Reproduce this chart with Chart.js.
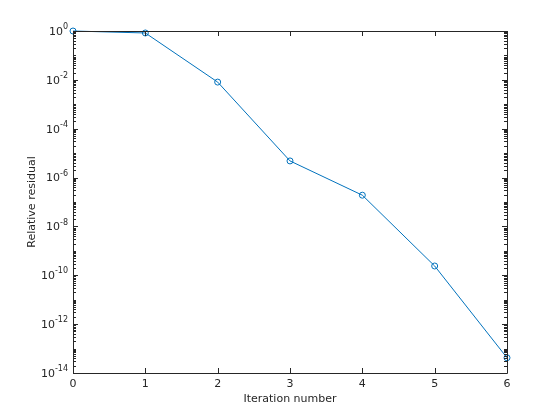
<!DOCTYPE html>
<html>
<head>
<meta charset="utf-8">
<script src="https://cdn.jsdelivr.net/npm/chart.js@4"></script>
<style>
html, body { margin: 0; padding: 0; background: #fff; }
</style>
</head>
<body>
<canvas id="residualChart" width="560" height="420"></canvas>
<script>
// data
const iterations = [0, 1, 2, 3, 4, 5, 6];
const residuals = [1, 0.83, 8.1e-3, 4.8e-6, 1.9e-7, 2.4e-10, 4.2e-14];
const xTicks = [0, 1, 2, 3, 4, 5, 6];
const yTickExponents = [0, -2, -4, -6, -8, -10, -12, -14];

const axisColor = '#262626';
const lineColor = '#0072bd';
const fontFamily = 'DejaVu Sans';

// MATLAB style box with inward ticks on all four sides, plus 10^n labels
const boxTicks = {
    id: 'boxTicks',
    afterDraw(chart) {
        const { ctx, chartArea: a, scales } = chart;
        const x = scales.x, y = scales.y;
        ctx.save();
        ctx.strokeStyle = axisColor;
        ctx.lineWidth = 1;
        ctx.beginPath();
        ctx.rect(Math.round(a.left) + 0.5, Math.round(a.top) + 0.5,
            Math.round(a.right - a.left), Math.round(a.bottom - a.top));
        ctx.stroke();

        ctx.beginPath();
        xTicks.forEach(v => {
            const px = Math.round(x.getPixelForValue(v)) + 0.5;
            ctx.moveTo(px, a.bottom); ctx.lineTo(px, a.bottom - 5);
            ctx.moveTo(px, a.top); ctx.lineTo(px, a.top + 5);
        });
        yTickExponents.forEach(e => {
            const py = Math.round(y.getPixelForValue(Math.pow(10, e))) + 0.5;
            ctx.moveTo(a.left, py); ctx.lineTo(a.left + 5, py);
            ctx.moveTo(a.right, py); ctx.lineTo(a.right - 5, py);
        });
        // minor ticks
        for (let e = -14; e < 0; e++) {
            for (let m = 1; m <= 9; m++) {
                if (m === 1 && e % 2 === 0) continue;
                const py = Math.round(y.getPixelForValue(m * Math.pow(10, e))) + 0.5;
                ctx.moveTo(a.left, py); ctx.lineTo(a.left + 3, py);
                ctx.moveTo(a.right, py); ctx.lineTo(a.right - 3, py);
            }
        }
        ctx.stroke();

        // y tick labels: base "10" with a raised exponent
        ctx.fillStyle = axisColor;
        ctx.textBaseline = 'middle';
        ctx.textAlign = 'left';
        yTickExponents.forEach(e => {
            const py = y.getPixelForValue(Math.pow(10, e));
            const exp = String(e);
            ctx.font = '8px "' + fontFamily + '"';
            const ew = ctx.measureText(exp).width;
            ctx.font = '11px "' + fontFamily + '"';
            const bw = ctx.measureText('10').width;
            const right = a.left - 5;
            ctx.fillText('10', right - ew - bw, py + 1);
            ctx.font = '8px "' + fontFamily + '"';
            ctx.fillText(exp, right - ew, py - 4);
        });
        ctx.restore();
    }
};

const ctx = document.getElementById('residualChart').getContext('2d');
new Chart(ctx, {
    type: 'line',
    data: {
        labels: iterations,
        datasets: [{
            data: iterations.map((it, i) => ({ x: it, y: residuals[i] })),
            borderColor: lineColor,
            backgroundColor: 'rgba(0,0,0,0)',
            borderWidth: 1,
            pointStyle: 'circle',
            pointRadius: 3,
            pointBorderWidth: 1,
            pointBorderColor: lineColor,
            pointBackgroundColor: 'rgba(0,0,0,0)',
            tension: 0,
            clip: false
        }]
    },
    options: {
        responsive: false,
        animation: false,
        layout: { padding: { top: 31, right: 53, left: 0, bottom: 0 } },
        plugins: {
            legend: { display: false },
            tooltip: { enabled: false }
        },
        scales: {
            x: {
                type: 'linear',
                min: 0,
                max: 6,
                grid: { display: false, drawTicks: false, tickLength: 0 },
                border: { display: false },
                afterFit: (s) => { s.height = 47; },
                afterBuildTicks: (s) => { s.ticks = xTicks.map(v => ({ value: v })); },
                ticks: {
                    padding: 5,
                    color: axisColor,
                    font: { family: fontFamily, size: 11 },
                    callback: (v) => String(v)
                },
                title: {
                    display: true,
                    text: 'Iteration number',
                    color: axisColor,
                    font: { family: fontFamily, size: 11 },
                    padding: { top: 0, bottom: 14 }
                }
            },
            y: {
                type: 'logarithmic',
                min: 1e-14,
                max: 1,
                grid: { display: false, drawTicks: false, tickLength: 0 },
                border: { display: false },
                afterFit: (s) => { s.width = 73; },
                afterBuildTicks: (s) => { s.ticks = yTickExponents.map(e => ({ value: Math.pow(10, e) })); },
                ticks: { display: false },
                title: {
                    display: true,
                    text: 'Relative residual',
                    color: axisColor,
                    font: { family: fontFamily, size: 11 },
                    padding: { top: 26, bottom: 0 }
                }
            }
        }
    },
    plugins: [boxTicks]
});
</script>
</body>
</html>
